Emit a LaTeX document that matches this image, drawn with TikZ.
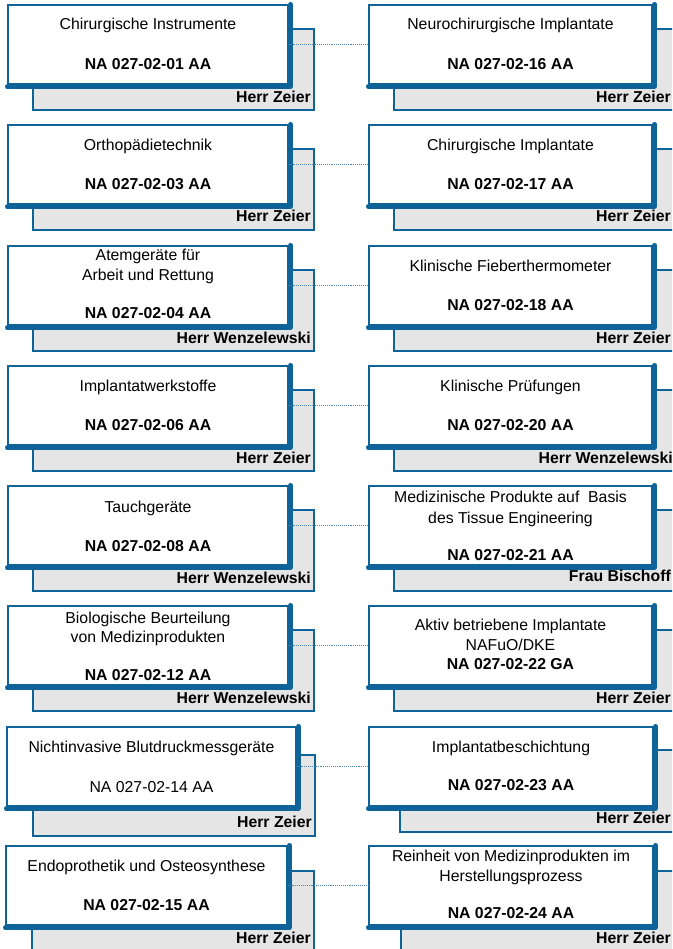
\documentclass[tikz,border=0pt]{standalone}
\usepackage{fontspec}
\setmainfont{Liberation Sans}
\definecolor{dinblue}{RGB}{14,100,152}
\definecolor{connblue}{RGB}{80,135,185}
\definecolor{boxgray}{RGB}{229,229,229}
\tikzset{
  wbox/.style={draw=dinblue, line width=1.5pt, fill=white, rectangle, inner sep=0pt},
  gbox/.style={draw=dinblue, line width=1.3pt, fill=boxgray, rectangle, inner sep=0pt},
  shadowline/.style={draw=dinblue, line width=4.5pt, line cap=round, line join=round},
  conn/.style={draw=connblue, line width=0.9pt, densely dotted},
  ttl/.style={anchor=base, inner sep=0pt, font=\fontsize{15.8}{19}\selectfont},
  num/.style={anchor=base, inner sep=0pt, font=\fontsize{15.8}{19}\selectfont\bfseries},
  who/.style={anchor=base east, inner sep=0pt, font=\fontsize{15.8}{19}\selectfont\bfseries},
}
% #1 name, #2 x1, #3 x2, #4 top, #5 gray x1, #6 gray x2, #7 gray top, #8 gray bottom
\newcommand\mkunit[8]{%
  \node[gbox, minimum width={(#6-#5)*1pt}, minimum height={(#8-#7)*1pt}] (#1g) at ({(#5+#6)/2},{(#7+#8)/2}) {};
  \node[wbox, minimum width={(#3-#2)*1pt}, minimum height=79pt] (#1) at ({(#2+#3)/2},{#4+39.5}) {};
  \draw[shadowline] ([xshift=1.8pt]#1.north east) -- ([xshift=1.8pt,yshift=-1.8pt]#1.south east) -- ([yshift=-1.8pt]#1.south west);
}
\begin{document}
\begin{tikzpicture}[x=1pt,y=-1pt]
\useasboundingbox (0,0) rectangle (672,949);
\clip (0,0) rectangle (672,949);

% boxes
\mkunit{L1}{8}{288}{5}{33}{314}{29}{110}
\mkunit{R1}{369}{652}{5}{394}{676}{29}{110}
\mkunit{L2}{8}{288}{125}{33}{314}{149}{230}
\mkunit{R2}{369}{652}{125}{394}{676}{149}{230}
\mkunit{L3}{8}{288}{246}{33}{314}{270}{351}
\mkunit{R3}{369}{652}{246}{394}{676}{270}{351}
\mkunit{L4}{8}{288}{366}{33}{314}{390}{471}
\mkunit{R4}{369}{652}{366}{394}{676}{390}{471}
\mkunit{L5}{8}{288}{486}{33}{314}{510}{591}
\mkunit{R5}{369}{652}{486}{394}{676}{510}{591}
\mkunit{L6}{8}{288}{606}{33}{314}{630}{711}
\mkunit{R6}{369}{652}{606}{394}{676}{630}{711}
\mkunit{L7}{7}{296}{727}{33}{315}{755}{836}
\mkunit{R7}{369}{653}{727}{400}{676}{750}{832}
\mkunit{L8}{6}{287}{846}{32}{314}{871}{960}
\mkunit{R8}{369}{653}{846}{401}{676}{871}{960}

% connectors
\foreach \i in {1,...,8} {\draw[conn] (L\i.east) -- (R\i.west);}

% texts, left column
\node[ttl] (L1t) at (148,30) {Chirurgische Instrumente};
\node[num] (L1n) at (148,70) {NA 027-02-01 AA};
\node[who] (L1w) at (311,103) {Herr Zeier};

\node[ttl] (L2t) at (148,150.5) {Orthopädietechnik};
\node[num] (L2n) at (148,189.5) {NA 027-02-03 AA};
\node[who] (L2w) at (311,222) {Herr Zeier};

\node[ttl] (L3t) at (148,261) {Atemgeräte für};
\node[ttl] (L3u) at (148,280.5) {Arbeit und Rettung};
\node[num] (L3n) at (148,318) {NA 027-02-04 AA};
\node[who] (L3w) at (311,343) {Herr Wenzelewski};

\node[ttl] (L4t) at (148,391) {Implantatwerkstoffe};
\node[num] (L4n) at (148,430) {NA 027-02-06 AA};
\node[who] (L4w) at (311,463) {Herr Zeier};

\node[ttl] (L5t) at (148,512) {Tauchgeräte};
\node[num] (L5n) at (148,551) {NA 027-02-08 AA};
\node[who] (L5w) at (311,583) {Herr Wenzelewski};

\node[ttl] (L6t) at (148,623) {Biologische Beurteilung};
\node[ttl] (L6u) at (148,642.5) {von Medizinprodukten};
\node[num] (L6n) at (148,680.5) {NA 027-02-12 AA};
\node[who] (L6w) at (311,703) {Herr Wenzelewski};

\node[ttl] (L7t) at (151.5,752) {Nichtinvasive Blutdruckmessgeräte};
\node[ttl] (L7n) at (151.5,792) {NA 027-02-14 AA};
\node[who] (L7w) at (312,827) {Herr Zeier};

\node[ttl] (L8t) at (146.5,871.5) {Endoprothetik und Osteosynthese};
\node[num] (L8n) at (146.5,910) {NA 027-02-15 AA};
\node[who] (L8w) at (311,943) {Herr Zeier};

% texts, right column
\node[ttl] (R1t) at (510.5,30) {Neurochirurgische Implantate};
\node[num] (R1n) at (510.5,70) {NA 027-02-16 AA};
\node[who] (R1w) at (671,103) {Herr Zeier};

\node[ttl] (R2t) at (510.5,150.5) {Chirurgische Implantate};
\node[num] (R2n) at (510.5,189.5) {NA 027-02-17 AA};
\node[who] (R2w) at (671,222) {Herr Zeier};

\node[ttl] (R3t) at (510.5,272) {Klinische Fieberthermometer};
\node[num] (R3n) at (510.5,310) {NA 027-02-18 AA};
\node[who] (R3w) at (671,343) {Herr Zeier};

\node[ttl] (R4t) at (510.5,391) {Klinische Prüfungen};
\node[num] (R4n) at (510.5,430) {NA 027-02-20 AA};
\node[who] (R4w) at (673,463) {Herr Wenzelewski};

\node[ttl] (R5t) at (510.5,502.5) {Medizinische Produkte auf\ \ Basis};
\node[ttl] (R5u) at (510.5,523) {des Tissue Engineering};
\node[num] (R5n) at (510.5,560.5) {NA 027-02-21 AA};
\node[who] (R5w) at (671,581) {Frau Bischoff};

\node[ttl] (R6t) at (510.5,630.5) {Aktiv betriebene Implantate};
\node[ttl] (R6u) at (510.5,650) {NAFuO/DKE};
\node[num] (R6n) at (510.5,669) {NA 027-02-22 GA};
\node[who] (R6w) at (671,703) {Herr Zeier};

\node[ttl] (R7t) at (511,752) {Implantatbeschichtung};
\node[num] (R7n) at (511,790.5) {NA 027-02-23 AA};
\node[who] (R7w) at (671,823) {Herr Zeier};

\node[ttl] (R8t) at (511,861.5) {Reinheit von Medizinprodukten im};
\node[ttl] (R8u) at (511,881.5) {Herstellungsprozess};
\node[num] (R8n) at (511,918) {NA 027-02-24 AA};
\node[who] (R8w) at (671,943) {Herr Zeier};
\end{tikzpicture}
\end{document}
